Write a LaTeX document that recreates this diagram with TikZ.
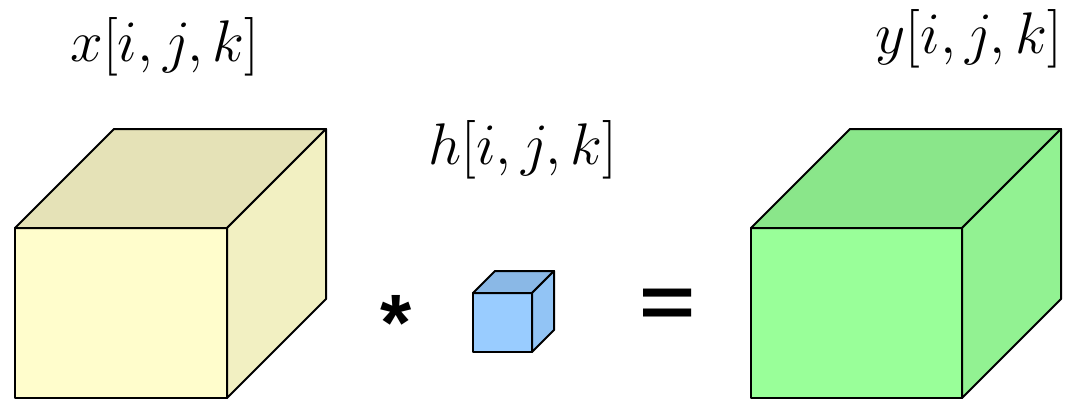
\documentclass[tikz,border=0pt]{standalone}
\usepackage{fontspec}
\usepackage{graphicx}
\newfontfamily\symfont{Liberation Sans}
\definecolor{yfront}{RGB}{255,253,204}
\definecolor{ytop}{RGB}{229,226,183}
\definecolor{yside}{RGB}{242,240,194}
\definecolor{gfront}{RGB}{153,255,153}
\definecolor{gtop}{RGB}{138,230,138}
\definecolor{gside}{RGB}{146,242,146}
\definecolor{bfront}{RGB}{153,204,255}
\definecolor{btop}{RGB}{138,184,230}
\definecolor{bside}{RGB}{146,196,245}
% #1 x of front-left, #2 y of front-top, #3 width, #4 height, #5 depth, #6 front, #7 top, #8 side colour
\newcommand\mycube[8]{%
  \draw[face,fill=#6] (#1,#2) rectangle ({#1+#3},{#2+#4});
  \draw[face,fill=#7] (#1,#2) -- ({#1+#5},{#2-#5}) -- ({#1+#3+#5},{#2-#5}) -- ({#1+#3},#2) -- cycle;
  \draw[face,fill=#8] ({#1+#3},#2) -- ({#1+#3+#5},{#2-#5}) -- ({#1+#3+#5},{#2+#4-#5}) -- ({#1+#3},{#2+#4}) -- cycle;
}
\newcommand\biglbl[1]{\scalebox{2.36}{\Huge $#1$}}
\begin{document}
\begin{tikzpicture}[x=1pt,y=-1pt,
  face/.style={draw=black,line width=2pt,line join=round},
  lbl/.style={inner sep=0pt,anchor=base},
  opsym/.style={inner sep=0pt,anchor=base,font=\symfont\bfseries\fontsize{80}{90}\selectfont},
  eqsym/.style={inner sep=0pt,anchor=base,font=\symfont\bfseries\fontsize{96}{110}\selectfont}]
\useasboundingbox (0,0) rectangle (1072,399);
\clip (0,0) rectangle (1072,399);
\mycube{15}{228}{212}{170}{99}{yfront}{ytop}{yside}
\mycube{473}{293}{59}{59}{22}{bfront}{btop}{bside}
\mycube{751}{228}{211}{170}{99}{gfront}{gtop}{gside}
\node[lbl] (xl) at (165,61) {\biglbl{x[i,j,k]}};
\node[lbl] (hl) at (523,164) {\biglbl{h[i,j,k]}};
\node[lbl] (yl) at (969,53) {\biglbl{y[i,j,k]}};
\node[opsym] (ast) at (396,350) {*};
\node[eqsym] (eq) at (668,327.5) {\scalebox{1}[0.77]{=}};
\end{tikzpicture}
\end{document}
